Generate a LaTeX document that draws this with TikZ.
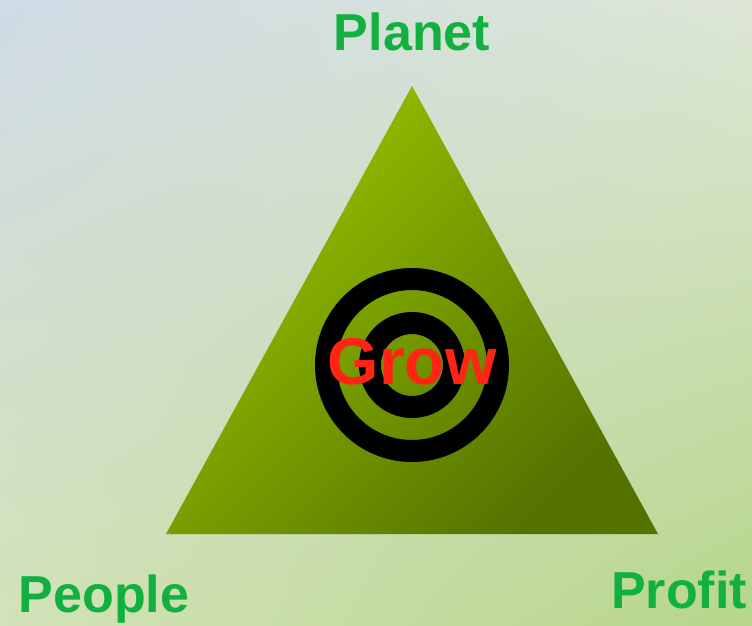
\documentclass[tikz,border=0pt]{standalone}
\usepackage{fontspec}
\setmainfont{Liberation Sans}
\usetikzlibrary{shadings}
\definecolor{bgUL}{HTML}{CFDBE6}
\definecolor{bgUR}{HTML}{DDE6D6}
\definecolor{bgLL}{HTML}{D3E2B8}
\definecolor{bgLR}{HTML}{B6D68A}
\definecolor{triLight}{HTML}{98C400}
\definecolor{triDark}{HTML}{547200}
\definecolor{labelGreen}{HTML}{12B040}
\definecolor{growRed}{HTML}{FF2414}
\begin{document}
\begin{tikzpicture}[x=1pt, y=-1pt,
    corner/.style={text=labelGreen, font=\fontsize{52}{52}\selectfont\bfseries, inner sep=0pt, anchor=base},
    ring/.style={draw=black, line width=22pt}]
            % Background
            \useasboundingbox (0,0) rectangle (752,625);
            \shade[upper left=bgUL, upper right=bgUR, lower left=bgLL, lower right=bgLR] (0,0) rectangle (752,625);

            % Triangle
            \coordinate (top) at (412,86);
            \coordinate (left) at (166,534);
            \coordinate (right) at (658,534);
            \shade[left color=triLight, right color=triDark, shading angle=45] (top) -- (left) -- (right) -- cycle;

            % Target rings
            \coordinate (centre) at (412,365);
            \draw[ring] (centre) circle (86);
            \draw[ring] (centre) circle (42);

            % Labels
            \node[text=growRed, font=\fontsize{66}{66}\selectfont\bfseries, inner sep=0pt, anchor=base] (grow) at (412,384) {Grow};
            \node[corner] (planet) at (412,50) {Planet};
            \node[corner] (people) at (104,612) {People};
            \node[corner] (profit) at (679,608) {Profit};
        \end{tikzpicture}
\end{document}
